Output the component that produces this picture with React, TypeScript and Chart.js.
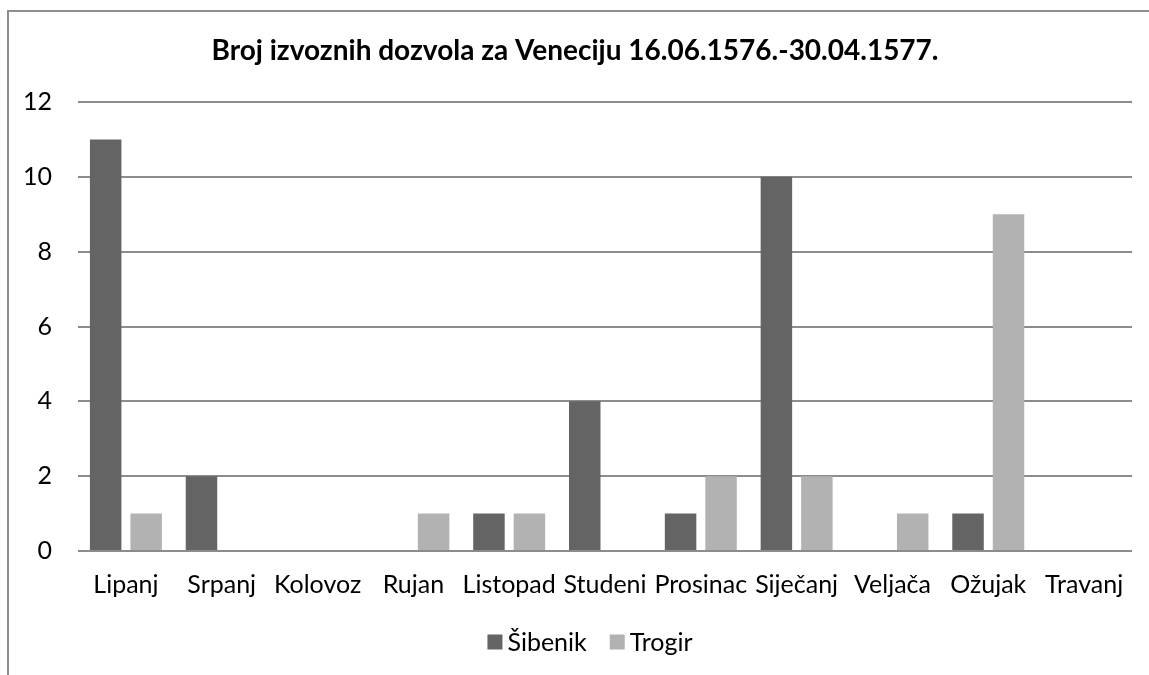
import React, { useEffect, useRef } from "react";
import { Chart, registerables } from "chart.js";

Chart.register(...registerables);

const TITLE = "Broj izvoznih dozvola za Veneciju 16.06.1576.-30.04.1577.";
const months = ["Lipanj", "Srpanj", "Kolovoz", "Rujan", "Listopad", "Studeni", "Prosinac", "Siječanj", "Veljača", "Ožujak", "Travanj"];
const sibenik = [11, 2, 0, 0, 1, 4, 1, 10, 0, 1, 0];
const trogir = [1, 0, 0, 1, 1, 0, 2, 2, 1, 9, 0];
const seriesNames = ["Šibenik", "Trogir"];
const seriesColors = ["#646464", "#b2b2b2"];
const yMin = 0;
const yMax = 12;
const yStep = 2;

const FONT = "Lato, 'Open Sans', sans-serif";

const decorPlugin = {
  id: "decor",
  afterDraw(chart: any) {
    const ctx = chart.ctx as CanvasRenderingContext2D;
    ctx.save();
    ctx.fillStyle = "#000";
    ctx.font = `bold 28px ${FONT}`;
    ctx.textAlign = "center";
    ctx.textBaseline = "alphabetic";
    ctx.fillText(TITLE, 575, 60);

    // legend
    ctx.font = `25px ${FONT}`;
    const box = 15;
    const gapText = 5;
    const gapItem = 23;
    const ds = chart.data.datasets;
    const widths = ds.map((d: any) => ctx.measureText(d.label).width);
    let total = 0;
    widths.forEach((w: number, i: number) => {
      total += box + gapText + w + (i > 0 ? gapItem : 0);
    });
    let x = 590 - total / 2;
    const cy = 642;
    ctx.textAlign = "left";
    ctx.textBaseline = "middle";
    ds.forEach((d: any, i: number) => {
      ctx.fillStyle = d.backgroundColor;
      ctx.fillRect(x, cy - box / 2, box, box);
      x += box + gapText;
      ctx.fillStyle = "#000";
      ctx.fillText(d.label, x, cy + 1);
      x += widths[i] + gapItem;
    });
    ctx.restore();
  },
};

export default function App() {
  const ref = useRef<HTMLCanvasElement | null>(null);

  useEffect(() => {
    if (!ref.current) return;
    const chart = new Chart(ref.current, {
      type: "bar",
      data: {
        labels: months,
        datasets: [
          {
            label: seriesNames[0],
            data: sibenik,
            backgroundColor: seriesColors[0],
            categoryPercentage: 0.845,
            barPercentage: 0.778,
          },
          {
            label: seriesNames[1],
            data: trogir,
            backgroundColor: seriesColors[1],
            categoryPercentage: 0.845,
            barPercentage: 0.778,
          },
        ],
      },
      options: {
        responsive: false,
        animation: false,
        layout: { padding: { top: 102, left: 0, right: 17, bottom: 0 } },
        plugins: {
          legend: { display: false },
          title: { display: false },
          tooltip: { enabled: false },
        },
        scales: {
          x: {
            grid: { display: false, drawTicks: false },
            border: { display: false },
            ticks: {
              color: "#000",
              font: { family: FONT, size: 25 },
              padding: 19,
              maxRotation: 0,
              minRotation: 0,
              autoSkip: false,
            },
            afterFit(scale: any) {
              scale.height = 124;
            },
          },
          y: {
            min: yMin,
            max: yMax,
            grid: { color: "#8c8c8c", lineWidth: 2, drawTicks: false },
            border: { display: false },
            ticks: {
              stepSize: yStep,
              color: "#000",
              font: { family: FONT, size: 25 },
              padding: 26,
            },
            afterFit(scale: any) {
              scale.width = 78;
            },
          },
        },
      },
      plugins: [decorPlugin],
    });
    return () => chart.destroy();
  }, []);

  return (
    <div
      style={{
        position: "fixed",
        left: 0,
        top: 0,
        width: 1149,
        height: 675,
        overflow: "hidden",
        background: "#fff",
      }}
    >
      <div
        style={{
          position: "absolute",
          left: 7,
          top: 10,
          width: 1300,
          height: 800,
          borderLeft: "2px solid #8e8e8e",
          borderTop: "2px solid #8e8e8e",
        }}
      />
      <canvas
        ref={ref}
        width={1149}
        height={675}
        style={{ position: "absolute", left: 0, top: 0, width: 1149, height: 675 }}
      />
    </div>
  );
}
